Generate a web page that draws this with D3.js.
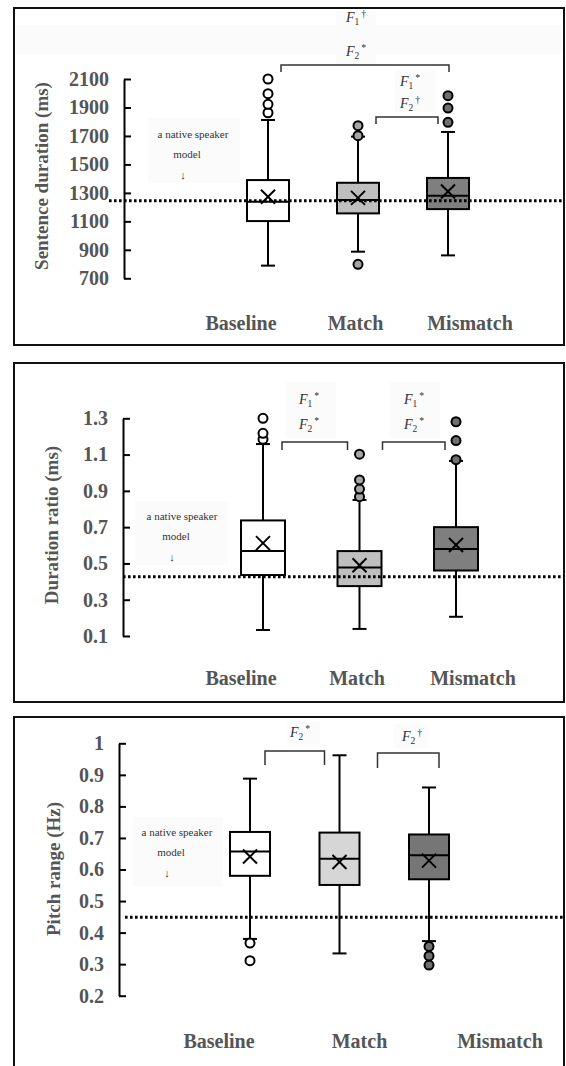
<!DOCTYPE html>
<html><head><meta charset="utf-8">
<script src="https://cdn.jsdelivr.net/npm/d3@7"></script>
<style>body{margin:0;background:#fff}svg{display:block}</style>
</head><body>
<script>
const categories = ["Baseline", "Match", "Mismatch"];

// Panel 1: Sentence duration (ms)
const durTicks = [700, 900, 1100, 1300, 1500, 1700, 1900, 2100];
const durWhiskerLow = [789, 887, 861];
const durQ1 = [1102, 1156, 1186];
const durMedian = [1238, 1250, 1280];
const durQ3 = [1390, 1371, 1405];
const durWhiskerHigh = [1812, 1695, 1728];
const durMean = [1273, 1265, 1310];
const durOutliers = [[1863, 1922, 1997, 2100], [798, 1702, 1772], [1796, 1896, 1983]];
const durModel = 1245;

// Panel 2: Duration ratio
const ratioTicks = [0.1, 0.3, 0.5, 0.7, 0.9, 1.1, 1.3];
const ratioWhiskerLow = [0.133, 0.139, 0.206];
const ratioQ1 = [0.436, 0.375, 0.461];
const ratioMedian = [0.568, 0.477, 0.579];
const ratioQ3 = [0.737, 0.568, 0.700];
const ratioWhiskerHigh = [1.158, 0.85, 1.065];
const ratioMean = [0.612, 0.49, 0.602];
const ratioOutliers = [[1.184, 1.217, 1.3], [0.868, 0.91, 0.96, 1.102], [1.072, 1.177, 1.281]];
const ratioModel = 0.427;

// Panel 3: Pitch range
const pitchTicks = [0.2, 0.3, 0.4, 0.5, 0.6, 0.7, 0.8, 0.9, 1];
const pitchWhiskerLow = [0.38, 0.334, 0.373];
const pitchQ1 = [0.58, 0.551, 0.569];
const pitchMedian = [0.657, 0.634, 0.645];
const pitchQ3 = [0.719, 0.717, 0.711];
const pitchWhiskerHigh = [0.888, 0.962, 0.86];
const pitchMean = [0.641, 0.624, 0.628];
const pitchOutliers = [[0.311, 0.367], [], [0.297, 0.326, 0.356]];
const pitchModel = 0.449;

// Significance annotations
const durSig = [["1", "†", "2", "*"], ["1", "*", "2", "†"]];
const ratioSig = [["1", "*", "2", "*"], ["1", "*", "2", "*"]];
const pitchSig = [["2", "*"], ["2", "†"]];

const SERIF = "'Liberation Serif','Times New Roman',serif";
const svg = d3.select("body").append("svg").attr("width", 566).attr("height", 1066);

function fLabel(g, x, y, sub, mark, size) {
  const t = g.append("text").attr("x", x).attr("y", y).attr("text-anchor", "middle")
    .attr("font-family", SERIF).attr("font-size", size).attr("fill", "#333");
  t.append("tspan").attr("font-style", "italic").text("F");
  t.append("tspan").attr("font-size", size * 0.68).attr("dy", 3).text(sub);
  t.append("tspan").attr("font-size", size * 0.7).attr("dy", -8).attr("dx", 2).text(mark);
}

function drawPanel(c) {
  const g = svg.append("g");
  (c.bgs || []).forEach(b => g.append("rect").attr("x", b[0]).attr("y", b[1]).attr("width", b[2]).attr("height", b[3]).attr("fill", "#fbfbfb"));
  g.append("rect").attr("x", 14).attr("y", c.top).attr("width", 550).attr("height", c.bottom - c.top)
    .attr("fill", "none").attr("stroke", "#111").attr("stroke-width", 2);

  const y = d3.scaleLinear().domain(c.domain).range(c.yRange);
  const x = d3.scalePoint().domain(categories).range(c.boxRange);
  const xl = d3.scalePoint().domain(categories).range(c.labelRange);

  const ax = g.append("g").attr("transform", `translate(${c.axisX},0)`)
    .call(d3.axisLeft(y).tickValues(c.ticks).tickSizeInner(-7).tickSizeOuter(0).tickPadding(15).tickFormat(d => String(d)));
  ax.select(".domain").attr("stroke", "#000").attr("stroke-width", 2);
  ax.selectAll(".tick line").attr("stroke", "#000").attr("stroke-width", 2);
  ax.selectAll(".tick text").attr("font-family", SERIF).attr("font-weight", "bold").attr("font-size", 20).attr("fill", "#555");

  g.append("text").attr("transform", `translate(${c.titleX},${c.titleY}) rotate(-90)`).attr("text-anchor", "middle")
    .attr("font-family", SERIF).attr("font-weight", "bold").attr("font-size", 19).attr("fill", "#555").text(c.title);

  const n = c.note;
  g.append("text").attr("x", n[0]).attr("y", n[1]).attr("text-anchor", "middle").attr("font-family", SERIF).attr("font-size", 11).attr("fill", "#333").text("a native speaker");
  g.append("text").attr("x", n[0] - 6).attr("y", n[1] + 20).attr("text-anchor", "middle").attr("font-family", SERIF).attr("font-size", 11).attr("fill", "#333").text("model");
  g.append("text").attr("x", n[0] - 10).attr("y", n[1] + 41).attr("text-anchor", "middle").attr("font-family", SERIF).attr("font-size", 11).attr("fill", "#333").text("↓");

  const hw = c.halfWidth, cap = 7;
  categories.forEach((cat, i) => {
    const cx = x(cat);
    const bg = g.append("g").attr("stroke", "#000").attr("stroke-width", 2);
    bg.append("line").attr("x1", cx).attr("x2", cx).attr("y1", y(c.wl[i])).attr("y2", y(c.q1[i]));
    bg.append("line").attr("x1", cx).attr("x2", cx).attr("y1", y(c.q3[i])).attr("y2", y(c.wh[i]));
    bg.append("line").attr("x1", cx - cap).attr("x2", cx + cap).attr("y1", y(c.wl[i])).attr("y2", y(c.wl[i]));
    bg.append("line").attr("x1", cx - cap).attr("x2", cx + cap).attr("y1", y(c.wh[i])).attr("y2", y(c.wh[i]));
    bg.append("rect").attr("x", cx - hw).attr("y", y(c.q3[i])).attr("width", hw * 2).attr("height", y(c.q1[i]) - y(c.q3[i]))
      .attr("fill", c.fills[i]);
    bg.append("line").attr("x1", cx - hw).attr("x2", cx + hw).attr("y1", y(c.med[i])).attr("y2", y(c.med[i]));
    const my = y(c.mean[i]);
    bg.append("line").attr("x1", cx - 7).attr("x2", cx + 7).attr("y1", my - 7).attr("y2", my + 7);
    bg.append("line").attr("x1", cx - 7).attr("x2", cx + 7).attr("y1", my + 7).attr("y2", my - 7);
    c.out[i].forEach(v => bg.append("circle").attr("cx", cx).attr("cy", y(v)).attr("r", 4.5).attr("fill", c.outFills[i]));

    g.append("text").attr("x", xl(cat)).attr("y", c.labelY).attr("text-anchor", "middle").attr("font-family", SERIF)
      .attr("font-weight", "bold").attr("font-size", 20).attr("fill", "#555").text(cat);
  });

  g.append("line").attr("x1", c.dotX0).attr("x2", 564).attr("y1", y(c.model)).attr("y2", y(c.model))
    .attr("stroke", "#000").attr("stroke-width", 3).attr("stroke-dasharray", "2.6,2.4");

  c.brackets.forEach((b, k) => {
    const x0 = x(b.from) + b.dx0, x1 = x(b.to) + b.dx1, yb = b.y;
    g.append("path").attr("d", `M${x0},${yb + b.drop}V${yb}H${x1}V${yb + b.drop}`)
      .attr("fill", "none").attr("stroke", "#333").attr("stroke-width", 1.5);
    const s = c.sig[k];
    fLabel(g, b.lx, b.ly[0], s[0], s[1], 14);
    if (s.length > 2) fLabel(g, b.lx, b.ly[1], s[2], s[3], 14);
  });
}

drawPanel({
  top: 8, bottom: 345, domain: [700, 2100], yRange: [278.3, 79], boxRange: [268, 448], labelRange: [241, 470],
  axisX: 124, ticks: durTicks, title: "Sentence duration (ms)", titleX: 48, titleY: 176,
  note: [193, 138], halfWidth: 21, labelY: 330, dotX0: 109,
  wl: durWhiskerLow, q1: durQ1, med: durMedian, q3: durQ3, wh: durWhiskerHigh, mean: durMean, out: durOutliers, model: durModel,
  fills: ["#fff", "#bfbfbf", "#7f7f7f"], outFills: ["#fff", "#a6a6a6", "#6f6f6f"],
  sig: durSig,
  brackets: [
    { from: "Baseline", to: "Mismatch", dx0: 13, dx1: 1, y: 65, drop: 7, lx: 356, ly: [22, 56] },
    { from: "Match", to: "Mismatch", dx0: 18, dx1: -10, y: 117, drop: 7, lx: 410, ly: [86, 108] }
  ],
  bgs: [[16, 25, 546, 29], [336, 12, 40, 52], [395, 70, 41, 42], [148, 118, 92, 65]]
});

drawPanel({
  top: 363, bottom: 702, domain: [0.1, 1.3], yRange: [636, 418.3], boxRange: [263, 456], labelRange: [241, 473],
  axisX: 123, ticks: ratioTicks, title: "Duration ratio (ms)", titleX: 58, titleY: 525,
  note: [182, 520], halfWidth: 22, labelY: 685, dotX0: 123,
  wl: ratioWhiskerLow, q1: ratioQ1, med: ratioMedian, q3: ratioQ3, wh: ratioWhiskerHigh, mean: ratioMean, out: ratioOutliers, model: ratioModel,
  fills: ["#fff", "#bfbfbf", "#7f7f7f"], outFills: ["#fff", "#a6a6a6", "#6f6f6f"],
  sig: ratioSig,
  brackets: [
    { from: "Baseline", to: "Match", dx0: 19, dx1: -12, y: 442, drop: 8, lx: 309, ly: [404, 429] },
    { from: "Match", to: "Mismatch", dx0: 23, dx1: -11, y: 442, drop: 8, lx: 414, ly: [404, 429] }
  ],
  bgs: [[286, 382, 50, 56], [390, 382, 50, 56], [135, 501, 93, 64]]
});

drawPanel({
  top: 717, bottom: 1075, domain: [0.2, 1], yRange: [995.7, 743.3], boxRange: [250, 429], labelRange: [219, 500],
  axisX: 119, ticks: pitchTicks, title: "Pitch range (Hz)", titleX: 60, titleY: 869,
  note: [177, 836], halfWidth: 20, labelY: 1048, dotX0: 125,
  wl: pitchWhiskerLow, q1: pitchQ1, med: pitchMedian, q3: pitchQ3, wh: pitchWhiskerHigh, mean: pitchMean, out: pitchOutliers, model: pitchModel,
  fills: ["#fff", "#d6d6d6", "#767676"], outFills: ["#fff", "#a6a6a6", "#6f6f6f"],
  sig: pitchSig,
  brackets: [
    { from: "Baseline", to: "Match", dx0: 15, dx1: -15, y: 751, drop: 14, lx: 300, ly: [737] },
    { from: "Match", to: "Mismatch", dx0: 38, dx1: 10, y: 753, drop: 15, lx: 412, ly: [741] }
  ],
  bgs: [[287, 722, 33, 24], [393, 724, 35, 24], [133, 817, 89, 69]]
});
</script>
</body></html>
